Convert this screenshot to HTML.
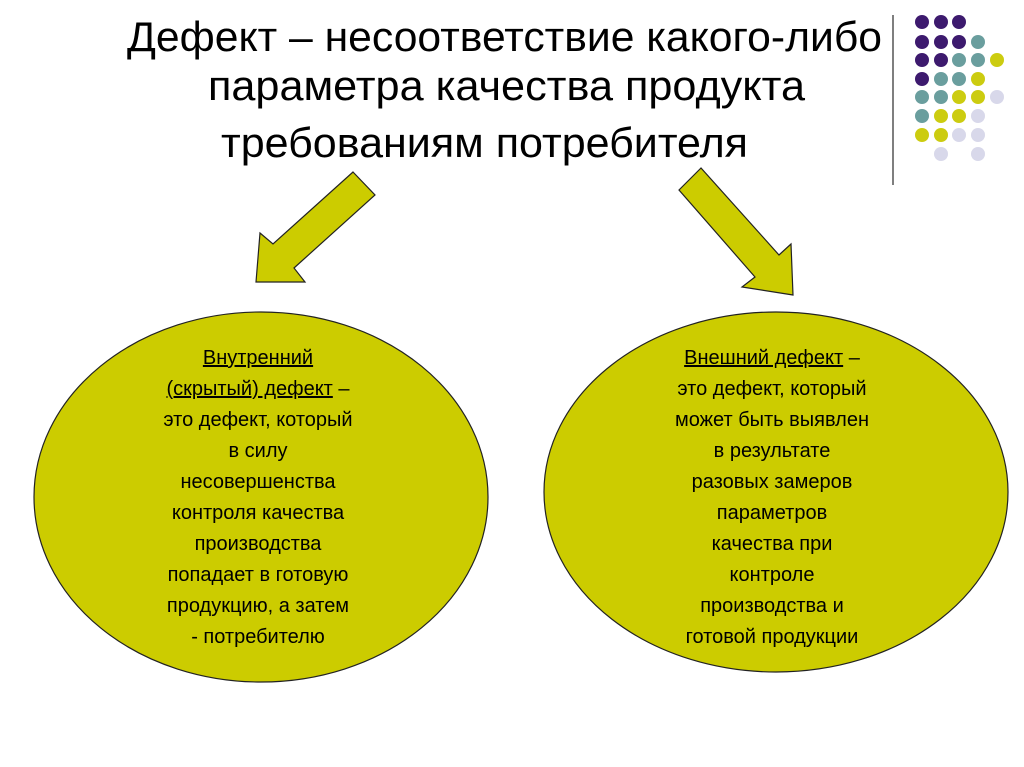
<!DOCTYPE html>
<html><head><meta charset="utf-8"><style>
html,body{margin:0;padding:0;background:#fff;}
svg{display:block;}
</style></head><body>
<svg width="1024" height="767" viewBox="0 0 1024 767" xmlns="http://www.w3.org/2000/svg" font-family="Liberation Sans, Arial, sans-serif">
<rect width="1024" height="767" fill="#fff"/>
<g font-size="42" fill="#000">
<text x="127" y="51" textLength="755" lengthAdjust="spacingAndGlyphs">Дефект – несоответствие какого-либо</text>
<text x="208" y="100" textLength="597" lengthAdjust="spacingAndGlyphs">параметра качества продукта</text>
<text x="221" y="157" textLength="527" lengthAdjust="spacingAndGlyphs">требованиям потребителя</text>
</g>
<line x1="893" y1="15" x2="893" y2="185" stroke="#555" stroke-width="1.5"/>
<g>
<circle cx="922" cy="22" r="7" fill="#3d1a6e"/><circle cx="941" cy="22" r="7" fill="#3d1a6e"/><circle cx="959" cy="22" r="7" fill="#3d1a6e"/>
<circle cx="922" cy="42" r="7" fill="#3d1a6e"/><circle cx="941" cy="42" r="7" fill="#3d1a6e"/><circle cx="959" cy="42" r="7" fill="#3d1a6e"/><circle cx="978" cy="42" r="7" fill="#6a9e9e"/>
<circle cx="922" cy="60" r="7" fill="#3d1a6e"/><circle cx="941" cy="60" r="7" fill="#3d1a6e"/><circle cx="959" cy="60" r="7" fill="#6a9e9e"/><circle cx="978" cy="60" r="7" fill="#6a9e9e"/><circle cx="997" cy="60" r="7" fill="#cccc10"/>
<circle cx="922" cy="79" r="7" fill="#3d1a6e"/><circle cx="941" cy="79" r="7" fill="#6a9e9e"/><circle cx="959" cy="79" r="7" fill="#6a9e9e"/><circle cx="978" cy="79" r="7" fill="#cccc10"/>
<circle cx="922" cy="97" r="7" fill="#6a9e9e"/><circle cx="941" cy="97" r="7" fill="#6a9e9e"/><circle cx="959" cy="97" r="7" fill="#cccc10"/><circle cx="978" cy="97" r="7" fill="#cccc10"/><circle cx="997" cy="97" r="7" fill="#d8d8ea"/>
<circle cx="922" cy="116" r="7" fill="#6a9e9e"/><circle cx="941" cy="116" r="7" fill="#cccc10"/><circle cx="959" cy="116" r="7" fill="#cccc10"/><circle cx="978" cy="116" r="7" fill="#d8d8ea"/>
<circle cx="922" cy="135" r="7" fill="#cccc10"/><circle cx="941" cy="135" r="7" fill="#cccc10"/><circle cx="959" cy="135" r="7" fill="#d8d8ea"/><circle cx="978" cy="135" r="7" fill="#d8d8ea"/>
<circle cx="941" cy="154" r="7" fill="#d8d8ea"/><circle cx="978" cy="154" r="7" fill="#d8d8ea"/>
</g>
<polygon points="353,172 375,195 294,268 305,282 256,282 260,233 273,244" fill="#cccc00" stroke="#222" stroke-width="1.2"/>
<polygon points="701,168 679,190 755,277 742,287 793,295 791,244 779,255" fill="#cccc00" stroke="#222" stroke-width="1.2"/>
<ellipse cx="261" cy="497" rx="227" ry="185" fill="#cccc00" stroke="#222" stroke-width="1.2"/>
<ellipse cx="776" cy="492" rx="232" ry="180" fill="#cccc00" stroke="#222" stroke-width="1.2"/>
<g font-size="20" fill="#000" text-anchor="middle">
<text x="258" y="364" text-decoration="underline">Внутренний</text>
<text x="258" y="395" ><tspan text-decoration="underline">(скрытый) дефект</tspan> –</text>
<text x="258" y="426">это дефект, который</text>
<text x="258" y="457">в силу</text>
<text x="258" y="488">несовершенства</text>
<text x="258" y="519">контроля качества</text>
<text x="258" y="550">производства</text>
<text x="258" y="581">попадает в готовую</text>
<text x="258" y="612">продукцию, а затем</text>
<text x="258" y="643">- потребителю</text>
<text x="772" y="364"><tspan text-decoration="underline">Внешний дефект</tspan> –</text>
<text x="772" y="395">это дефект, который</text>
<text x="772" y="426">может быть выявлен</text>
<text x="772" y="457">в результате</text>
<text x="772" y="488">разовых замеров</text>
<text x="772" y="519">параметров</text>
<text x="772" y="550">качества при</text>
<text x="772" y="581">контроле</text>
<text x="772" y="612">производства и</text>
<text x="772" y="643">готовой продукции</text>
</g>
</svg>
</body></html>
